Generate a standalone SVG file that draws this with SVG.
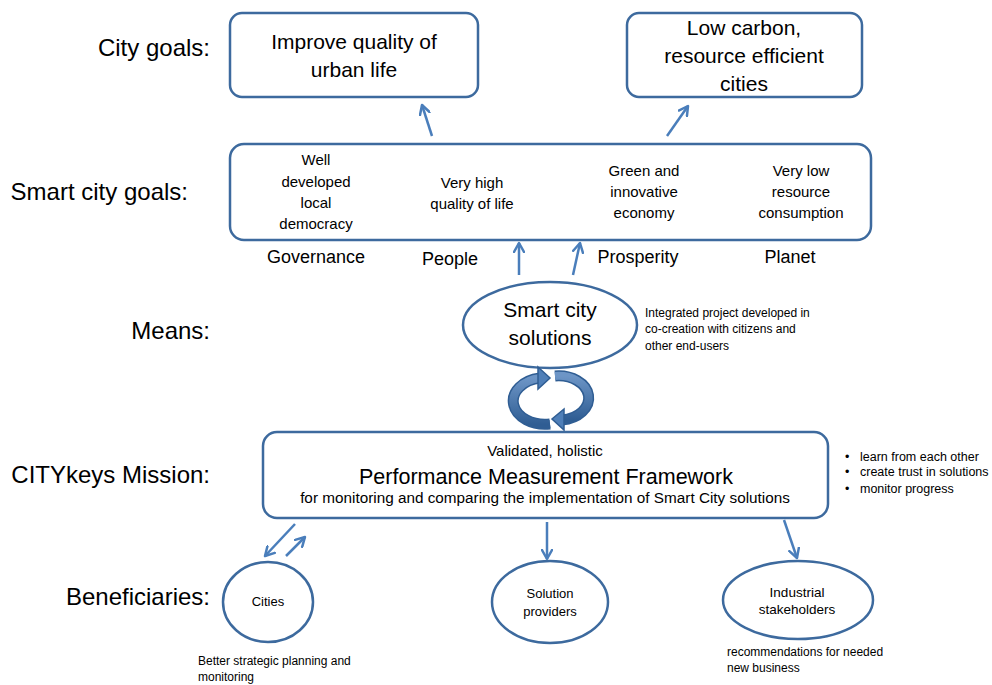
<svg xmlns="http://www.w3.org/2000/svg" width="992" height="685" viewBox="0 0 992 685">
<defs>
<style>
text{font-family:"Liberation Sans",Arial,sans-serif;fill:#000}
.lbl{font-size:24px;text-anchor:end}
.box{fill:#fff;stroke:#3d6a9e;stroke-width:2.5}
.c{text-anchor:middle}
.conn{stroke:#4a7ebb;stroke-width:2.5;fill:none;marker-end:url(#arr)}
.small{font-size:12px}
</style>
<marker id="arr" viewBox="0 0 12 12" refX="10" refY="6" markerWidth="12" markerHeight="12" markerUnits="userSpaceOnUse" orient="auto">
<path d="M1,1 L10,6 L1,11" fill="none" stroke="#4a7ebb" stroke-width="2.5" stroke-linecap="round" stroke-linejoin="round"/>
</marker>
<linearGradient id="ring" x1="0" y1="0" x2="0" y2="1">
<stop offset="0" stop-color="#6d95c6"/>
<stop offset="1" stop-color="#2f5d93"/>
</linearGradient>
</defs>

<g id="row-labels">
<text class="lbl" x="210" y="56">City goals:</text>
<text class="lbl" x="188" y="200">Smart city goals:</text>
<text class="lbl" x="210" y="339">Means:</text>
<text class="lbl" x="210" y="483">CITYkeys Mission:</text>
<text class="lbl" x="210" y="605">Beneficiaries:</text>
</g>

<g id="city-goal-1">
<rect class="box" x="230" y="13" width="248" height="84" rx="12"/>
<text class="c" x="354" y="49" font-size="21">Improve quality of</text>
<text class="c" x="354" y="77" font-size="21">urban life</text>
</g>

<g id="city-goal-2">
<rect class="box" x="627" y="13" width="235" height="84" rx="12"/>
<text class="c" x="744" y="35" font-size="21">Low carbon,</text>
<text class="c" x="744" y="63" font-size="21">resource efficient</text>
<text class="c" x="744" y="91" font-size="21">cities</text>
</g>

<g id="smart-city-goals">
<rect class="box" x="230" y="144" width="641" height="96" rx="14"/>
<g font-size="15">
<text class="c" x="316" y="165">Well</text>
<text class="c" x="316" y="187">developed</text>
<text class="c" x="316" y="208">local</text>
<text class="c" x="316" y="229">democracy</text>
<text class="c" x="472" y="188">Very high</text>
<text class="c" x="472" y="209">quality of life</text>
<text class="c" x="644" y="176">Green and</text>
<text class="c" x="644" y="197">innovative</text>
<text class="c" x="644" y="218">economy</text>
<text class="c" x="801" y="176">Very low</text>
<text class="c" x="801" y="197">resource</text>
<text class="c" x="801" y="218">consumption</text>
</g>
<g font-size="18">
<text class="c" x="316" y="263">Governance</text>
<text class="c" x="450" y="265">People</text>
<text class="c" x="638" y="263">Prosperity</text>
<text class="c" x="790" y="263">Planet</text>
</g>
</g>

<g id="smart-city-solutions">
<ellipse class="box" cx="550" cy="325" rx="87" ry="43"/>
<text class="c" x="550" y="317" font-size="21">Smart city</text>
<text class="c" x="550" y="345" font-size="21">solutions</text>
<text class="small" x="645" y="317">Integrated project developed in</text>
<text class="small" x="645" y="333">co-creation with citizens and</text>
<text class="small" x="645" y="350">other end-users</text>
</g>

<g id="cycle">
<path d="M550,424 A30,22 0 1 1 540,378" fill="none" stroke="#2f5d93" stroke-width="11"/>
<path d="M550,424 A30,22 0 1 1 540,378" fill="none" stroke="url(#ring)" stroke-width="8"/>
<polygon points="538,367 550,378 538,389" fill="#4f7fb8" stroke="#2f5d93" stroke-width="1.5"/>
<path d="M555,376 A30,22 0 0 1 562,420" fill="none" stroke="#2f5d93" stroke-width="11"/>
<path d="M555,376 A30,22 0 0 1 562,420" fill="none" stroke="url(#ring)" stroke-width="8"/>
<polygon points="564,409 552,419 564,430" fill="#4f7fb8" stroke="#2f5d93" stroke-width="1.5"/>
</g>

<g id="mission">
<rect class="box" x="263" y="432" width="565" height="86" rx="14"/>
<text class="c" x="545" y="456" font-size="15">Validated, holistic</text>
<text class="c" x="546" y="484" font-size="21.5">Performance Measurement Framework</text>
<text class="c" x="545" y="503" font-size="15.3">for monitoring and comparing the implementation of Smart City solutions</text>
<g font-size="12.5">
<text x="845" y="461">•</text><text x="860" y="461">learn from each other</text>
<text x="845" y="476">•</text><text x="860" y="476">create trust in solutions</text>
<text x="845" y="493">•</text><text x="860" y="493">monitor progress</text>
</g>
</g>

<g id="cities">
<ellipse class="box" cx="268" cy="602" rx="45" ry="40"/>
<text class="c" x="268" y="606" font-size="13">Cities</text>
<text class="small" x="198" y="665">Better strategic planning and</text>
<text class="small" x="198" y="681">monitoring</text>
</g>

<g id="solution-providers">
<ellipse class="box" cx="550" cy="602" rx="58" ry="41"/>
<text class="c" x="550" y="598" font-size="13">Solution</text>
<text class="c" x="550" y="616" font-size="13">providers</text>
</g>

<g id="industrial-stakeholders">
<ellipse class="box" cx="798" cy="600" rx="75" ry="39"/>
<text class="c" x="797" y="597" font-size="13.5">Industrial</text>
<text class="c" x="797" y="614" font-size="13.5">stakeholders</text>
<text class="small" x="727" y="656">recommendations for needed</text>
<text class="small" x="727" y="672">new business</text>
</g>

<g id="connectors">
<line class="conn" x1="432" y1="136" x2="422" y2="105"/>
<line class="conn" x1="667" y1="136" x2="688" y2="106"/>
<line class="conn" x1="519" y1="275" x2="519" y2="243"/>
<line class="conn" x1="573" y1="275" x2="580" y2="243"/>
<line class="conn" x1="295" y1="524" x2="265" y2="556"/>
<line class="conn" x1="286" y1="556" x2="305" y2="537"/>
<line class="conn" x1="547" y1="522" x2="547" y2="559"/>
<line class="conn" x1="784" y1="520" x2="797" y2="558"/>
</g>
</svg>
